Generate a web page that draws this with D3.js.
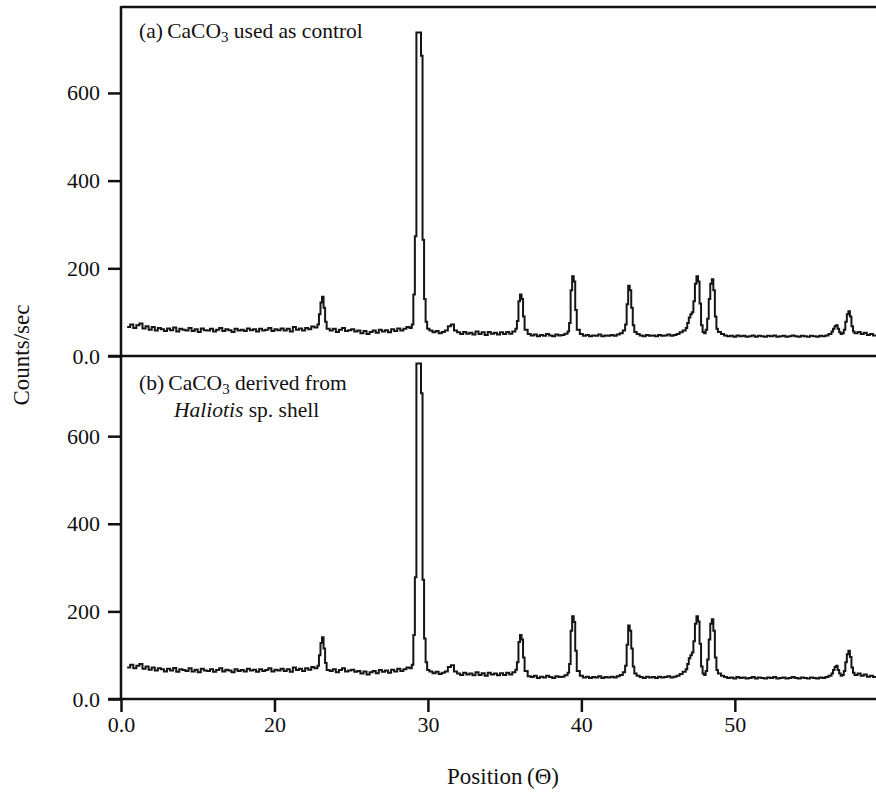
<!DOCTYPE html>
<html>
<head>
<meta charset="utf-8">
<script src="https://cdn.jsdelivr.net/npm/d3@7"></script>
<style>
  body { margin: 0; background: #fff; }
  text { font-family: "Liberation Serif", "Times New Roman", serif; fill: #111; }
</style>
</head>
<body>
<script>
// XRD patterns, two panels sharing the angle axis

var twoTheta = [
  // 10.4 - 22.6
  10.4,10.6,10.8,11.0,11.2,11.4,11.6,11.8,12.0,12.2,
  12.4,12.6,12.8,13.0,13.2,13.4,13.6,13.8,14.0,14.2,
  14.4,14.6,14.8,15.0,15.2,15.4,15.6,15.8,16.0,16.2,
  16.4,16.6,16.8,17.0,17.2,17.4,17.6,17.8,18.0,18.2,
  18.4,18.6,18.8,19.0,19.2,19.4,19.6,19.8,20.0,20.2,
  20.4,20.6,20.8,21.0,21.2,21.4,21.6,21.8,22.0,22.2,
  22.4,22.6,
  // peak ~23.1
  22.8,22.9,23.0,23.1,23.2,23.3,23.4,
  23.6,23.8,24.0,24.2,24.4,24.6,24.8,25.0,25.2,25.4,
  25.6,25.8,26.0,26.2,26.4,26.6,26.8,27.0,27.2,27.4,
  27.6,27.8,28.0,28.2,28.4,28.6,
  // main peak ~29.4
  28.8,28.95,29.05,29.15,29.25,29.55,29.65,29.75,29.85,29.95,
  30.1,30.3,30.5,30.7,30.9,31.1,31.3,31.5,31.7,31.9,
  32.1,32.3,32.5,32.7,32.9,33.1,33.3,33.5,33.7,33.9,
  34.1,34.3,34.5,34.7,34.9,35.1,35.3,35.5,35.7,
  // peak ~36.0
  35.8,35.9,36.0,36.1,36.2,36.3,
  36.5,36.7,36.9,37.1,37.3,37.5,37.7,37.9,38.1,38.3,38.5,38.7,38.9,39.1,
  // peak ~39.4
  39.2,39.3,39.4,39.5,39.6,39.7,
  39.9,40.1,40.3,40.5,40.7,40.9,41.1,41.3,41.5,41.7,41.9,42.1,42.3,42.5,42.7,
  // peak ~43.15
  42.85,42.95,43.05,43.15,43.25,43.35,43.45,
  43.6,43.8,44.0,44.2,44.4,44.6,44.8,45.0,45.2,45.4,45.6,45.8,46.0,46.2,46.4,46.6,
  // 47.1 / 47.5 / 48.5
  46.8,46.9,47.0,47.1,47.2,47.3,47.4,47.5,47.6,47.7,47.8,47.9,48.0,48.1,48.2,48.3,48.4,48.5,48.6,48.7,48.8,48.9,
  49.1,49.3,49.5,49.7,49.9,50.1,50.3,50.5,50.7,50.9,
  51.1,51.3,51.5,51.7,51.9,52.1,52.3,52.5,52.7,52.9,
  53.1,53.3,53.5,53.7,53.9,54.1,54.3,54.5,54.7,54.9,
  55.1,55.3,55.5,55.7,55.9,56.1,
  // 56.6 / 57.4
  56.3,56.4,56.5,56.6,56.7,56.8,56.9,57.0,57.1,57.2,57.3,57.4,57.5,57.6,57.7,57.8,
  58.0,58.2,58.4,58.6,58.8,59.0,59.2
];

// (a) commercial CaCO3
var countsA = [
  66,72,64,70,74,63,68,60,66,58,
  64,61,57,63,59,65,56,62,60,58,
  64,57,61,55,63,59,58,62,56,60,
  64,57,61,59,55,62,58,60,57,63,
  59,61,56,62,58,60,64,57,61,59,
  63,58,62,56,66,60,63,58,64,61,
  67,65,
  72,95,122,135,110,78,62,
  58,62,55,60,64,57,59,61,56,58,
  52,57,50,55,58,53,60,56,59,54,
  61,57,63,58,62,66,
  64,72,140,273,738,685,265,130,78,62,
  58,54,57,52,55,58,68,72,58,54,
  50,55,51,53,49,56,50,54,48,55,
  51,53,49,54,50,55,51,56,62,
  80,125,140,130,90,60,
  50,47,49,45,48,46,50,47,45,49,47,48,51,56,
  75,150,182,170,105,60,
  50,46,48,45,47,46,49,45,47,46,48,46,49,52,58,
  72,118,160,150,110,70,55,
  50,47,45,48,46,47,45,48,46,47,49,46,48,50,54,58,
  64,75,88,95,100,125,165,182,170,120,70,55,52,60,85,130,165,175,150,90,62,55,
  50,47,45,46,44,47,45,46,44,45,
  47,44,46,45,44,46,45,47,44,45,
  46,44,45,47,45,44,46,45,44,46,
  45,44,46,45,47,50,
  56,62,68,70,62,54,50,52,60,78,95,102,90,68,56,52,
  55,50,53,48,50,47,49
];

// (b) shell-derived CaCO3
var countsB = [
  72,78,70,76,80,69,74,67,72,65,
  70,68,63,69,65,71,62,68,66,64,
  70,63,67,61,69,65,64,68,62,66,
  70,63,67,65,61,68,64,66,63,69,
  65,67,62,68,64,66,70,63,67,65,
  69,64,68,62,72,66,69,64,70,67,
  73,70,
  76,100,128,141,115,82,66,
  64,68,61,66,70,63,65,67,62,64,
  58,63,56,61,64,59,66,62,65,60,
  67,63,69,64,68,72,
  70,78,146,278,766,698,272,138,84,66,
  63,59,62,57,60,63,73,77,63,58,
  55,60,56,58,54,61,55,59,53,60,
  56,58,54,59,55,60,56,61,67,
  84,130,146,136,95,64,
  52,50,53,48,51,49,53,50,48,52,50,51,54,60,
  80,156,189,176,110,64,
  53,49,51,48,50,49,52,48,50,49,51,49,52,55,61,
  76,124,168,156,115,74,58,
  53,50,48,51,49,50,48,51,49,50,52,49,51,53,57,62,
  68,80,93,100,106,132,172,189,177,126,74,58,55,64,90,136,172,182,156,95,66,58,
  53,50,48,49,47,50,48,49,47,48,
  50,47,49,48,47,49,48,50,47,48,
  49,47,48,50,48,47,49,48,47,49,
  48,47,49,48,50,53,
  58,66,73,76,66,58,53,55,64,84,102,110,96,72,60,55,
  58,53,56,51,53,50,52
];

var xTicks = [10, 20, 30, 40, 50];
var xTickLabels = ["0.0", "20", "30", "40", "50"];
var yTicks = [0, 200, 400, 600];
var yTickLabels = ["0.0", "200", "400", "600"];

var svgWidth = 876;
var svgHeight = 797;
var margin = { top: 7, left: 121 };
var width = 755;

var panels = [
  { name: "a", data: countsA, top: 7, height: 349, yMax: 796 },
  { name: "b", data: countsB, top: 356, height: 343, yMax: 783 }
];

var svg = d3.select("body")
  .append("svg")
  .attr("width", svgWidth)
  .attr("height", svgHeight);

var x = d3.scaleLinear()
  .domain([10, 59.2])
  .range([margin.left, margin.left + width]);

svg.append("clipPath")
  .attr("id", "plotclip")
  .append("rect")
  .attr("x", margin.left)
  .attr("y", 7)
  .attr("width", width)
  .attr("height", 692);

panels.forEach(function(p) {
  var y = d3.scaleLinear()
    .domain([0, p.yMax])
    .range([p.top + p.height, p.top]);

  var yAxis = d3.axisLeft(y)
    .tickValues(yTicks)
    .tickFormat(function(d, i) { return yTickLabels[i]; })
    .tickSize(13)
    .tickSizeOuter(0)
    .tickPadding(8);

  var gy = svg.append("g")
    .attr("transform", "translate(" + margin.left + ",0)")
    .call(yAxis);
  gy.select(".domain").remove();
  gy.selectAll("line").attr("stroke", "#111").attr("stroke-width", 2.5);
  gy.selectAll("text")
    .style("font-family", "'Liberation Serif', serif")
    .style("font-size", "22px")
    .attr("fill", "#111");

  var points = d3.zip(twoTheta, p.data);
  var line = d3.line()
    .x(function(d) { return x(d[0]); })
    .y(function(d) { return y(d[1]); })
    .curve(d3.curveStepAfter);

  svg.append("path")
    .datum(points)
    .attr("clip-path", "url(#plotclip)")
    .attr("fill", "none")
    .attr("stroke", "#151515")
    .attr("stroke-width", 2)
    .attr("stroke-linejoin", "miter")
    .attr("d", line);
});

// bottom axis
var xAxis = d3.axisBottom(x)
  .tickValues(xTicks)
  .tickFormat(function(d, i) { return xTickLabels[i]; })
  .tickSize(13)
  .tickSizeOuter(0)
  .tickPadding(4);

var gx = svg.append("g")
  .attr("transform", "translate(0,699)")
  .call(xAxis);
gx.select(".domain").remove();
gx.selectAll("line").attr("stroke", "#111").attr("stroke-width", 2.5);
gx.selectAll("text")
  .style("font-family", "'Liberation Serif', serif")
  .style("font-size", "22px")
  .attr("fill", "#111");

// frame lines
var frame = svg.append("g").attr("stroke", "#111").attr("stroke-width", 2.5);
frame.append("line").attr("x1", margin.left).attr("x2", svgWidth + 5).attr("y1", 7).attr("y2", 7);
frame.append("line").attr("x1", margin.left - 13).attr("x2", svgWidth + 5).attr("y1", 356).attr("y2", 356);
frame.append("line").attr("x1", margin.left - 13).attr("x2", svgWidth + 5).attr("y1", 699).attr("y2", 699);
frame.append("line").attr("x1", margin.left).attr("x2", margin.left).attr("y1", 6).attr("y2", 700);

// panel labels
var la = svg.append("text").attr("x", 139).attr("y", 38).style("font-size", "21.5px");
la.append("tspan").text("(a)\u2009CaCO");
la.append("tspan").attr("dy", 4).style("font-size", "15px").text("3");
la.append("tspan").attr("dy", -4).text(" used as control");

var lb = svg.append("text").attr("x", 139).attr("y", 390).style("font-size", "21.5px");
lb.append("tspan").text("(b)\u2009CaCO");
lb.append("tspan").attr("dy", 4).style("font-size", "15px").text("3");
lb.append("tspan").attr("dy", -4).text(" derived from");

var lb2 = svg.append("text").attr("x", 174).attr("y", 417).style("font-size", "21.5px");
lb2.append("tspan").style("font-style", "italic").text("Haliotis");
lb2.append("tspan").text(" sp. shell");

// axis titles
svg.append("text")
  .attr("transform", "translate(29,355) rotate(-90)")
  .style("text-anchor", "middle")
  .style("font-size", "23px")
  .text("Counts/sec");

svg.append("text")
  .attr("x", 503)
  .attr("y", 784)
  .style("text-anchor", "middle")
  .style("font-size", "23px")
  .text("Position\u2009(\u0398)");
</script>
</body>
</html>
